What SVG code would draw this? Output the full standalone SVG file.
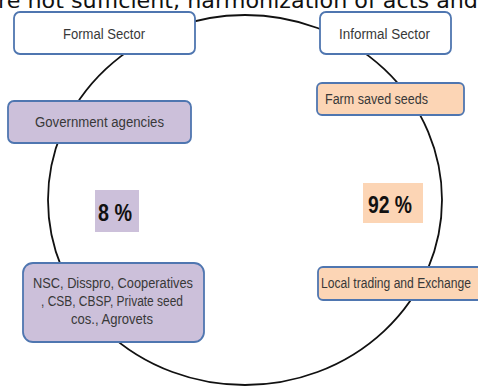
<svg xmlns="http://www.w3.org/2000/svg" width="478" height="386" viewBox="0 0 478 386">
<style>
.box{stroke:#4f76b0;stroke-width:1.8}
.white{fill:#ffffff}
.lav{fill:#ccc0da}
.peach{fill:#fcd5b5}
.lbl{font-family:"Liberation Sans",Arial,sans-serif;font-size:14px;fill:#383838}
.pct{font-family:"Liberation Sans",Arial,sans-serif;font-size:24px;font-weight:bold;fill:#111111}
.conn{fill:none;stroke:#111111;stroke-width:1.8}
</style>
<rect x="0" y="0" width="478" height="386" fill="#ffffff"/>
<text x="-2" y="8" font-family="DejaVu Sans,sans-serif" font-size="22" fill="#111111" textLength="480" lengthAdjust="spacingAndGlyphs">re not sufficient, harmonization of acts and</text>
<g id="connectors">
<ellipse class="conn" cx="245" cy="200" rx="197" ry="185"/>
</g>
<g id="formal-sector">
<rect class="box white" x="14" y="12" width="181" height="42" rx="6"/>
<text class="lbl" x="63" y="39" textLength="82" lengthAdjust="spacingAndGlyphs">Formal Sector</text>
</g>
<g id="informal-sector">
<rect class="box white" x="320" y="12" width="131" height="42" rx="6"/>
<text class="lbl" x="339" y="39" textLength="91" lengthAdjust="spacingAndGlyphs">Informal Sector</text>
</g>
<g id="government-agencies">
<rect class="box lav" x="8" y="101" width="183" height="42" rx="6"/>
<text class="lbl" x="35" y="127" textLength="129" lengthAdjust="spacingAndGlyphs">Government agencies</text>
</g>
<g id="farm-saved-seeds">
<rect class="box peach" x="317" y="83" width="147" height="32" rx="5"/>
<text class="lbl" x="325" y="104" textLength="103" lengthAdjust="spacingAndGlyphs">Farm saved seeds</text>
</g>
<g id="pct-8">
<rect class="lav" x="95" y="190" width="44" height="42"/>
<text class="pct" x="98" y="221" textLength="34" lengthAdjust="spacingAndGlyphs">8 %</text>
</g>
<g id="pct-92">
<rect class="peach" x="363" y="183" width="60" height="40"/>
<text class="pct" x="368" y="213" textLength="44" lengthAdjust="spacingAndGlyphs">92 %</text>
</g>
<g id="formal-actors">
<rect class="box lav" x="23" y="263" width="181" height="79" rx="10"/>
<text class="lbl">
<tspan x="33" y="288" textLength="160" lengthAdjust="spacingAndGlyphs">NSC, Disspro, Cooperatives</tspan>
<tspan x="41" y="306" textLength="142" lengthAdjust="spacingAndGlyphs">, CSB, CBSP, Private seed</tspan>
<tspan x="71" y="324" textLength="82" lengthAdjust="spacingAndGlyphs">cos., Agrovets</tspan>
</text>
</g>
<g id="local-trading">
<rect class="box peach" x="318" y="267" width="180" height="33" rx="5"/>
<text class="lbl" x="321" y="288" textLength="150" lengthAdjust="spacingAndGlyphs">Local trading and Exchange</text>
</g>
</svg>
